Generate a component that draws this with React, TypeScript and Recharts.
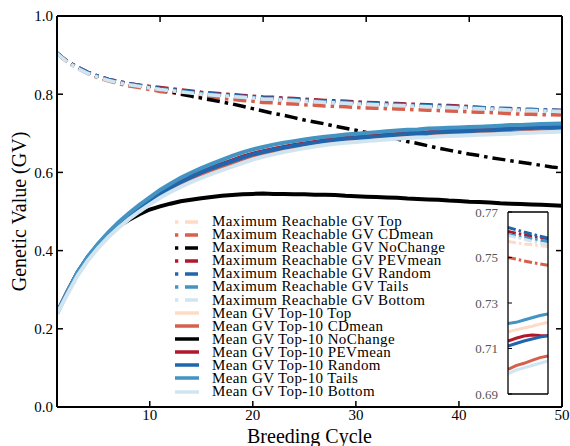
import React from 'react'
import { LineChart, Line, XAxis, YAxis, Legend } from 'recharts'

const FONT = '"Liberation Serif", "Times New Roman", serif'

const cycles = [
  1, 2, 3, 4, 5, 6, 7, 8, 9, 10, 11, 12, 13, 14, 15, 16, 17, 18, 19, 20, 21, 22, 23, 24, 25,
  26, 27, 28, 29, 30, 31, 32, 33, 34, 35, 36, 37, 38, 39, 40, 41, 42, 43, 44, 45, 46, 47, 48, 49, 50,
]

const schemes = ['Top', 'CDmean', 'NoChange', 'PEVmean', 'Random', 'Tails', 'Bottom']
const colors = ['#fddbc7', '#d6604d', '#000000', '#b2182b', '#2166ac', '#4393c3', '#d1e5f0']

// Maximum reachable GV per scheme
const maxTop = [
  0.904, 0.881, 0.865, 0.852, 0.841, 0.833, 0.827, 0.822, 0.818, 0.814,
  0.810, 0.807, 0.804, 0.801, 0.798, 0.796, 0.794, 0.792, 0.790, 0.788,
  0.786, 0.785, 0.783, 0.782, 0.780, 0.779, 0.777, 0.776, 0.775, 0.773,
  0.772, 0.771, 0.770, 0.769, 0.768, 0.767, 0.766, 0.765, 0.764, 0.763,
  0.762, 0.761, 0.760, 0.759, 0.7570, 0.7565, 0.7560, 0.7556, 0.7552, 0.7548,
]
const maxCDmean = [
  0.905, 0.883, 0.867, 0.853, 0.842, 0.834, 0.827, 0.821, 0.817, 0.812,
  0.807, 0.804, 0.801, 0.797, 0.794, 0.791, 0.789, 0.787, 0.784, 0.782,
  0.779, 0.778, 0.776, 0.775, 0.773, 0.772, 0.770, 0.769, 0.768, 0.766,
  0.765, 0.764, 0.763, 0.762, 0.761, 0.760, 0.759, 0.758, 0.757, 0.756,
  0.755, 0.754, 0.753, 0.752, 0.7500, 0.7493, 0.7485, 0.7478, 0.7472, 0.7466,
]
const maxNoChange = [
  0.905, 0.883, 0.868, 0.855, 0.845, 0.837, 0.831, 0.826, 0.822, 0.818,
  0.813, 0.807, 0.800, 0.795, 0.790, 0.785, 0.780, 0.775, 0.769, 0.763,
  0.757, 0.751, 0.746, 0.740, 0.734, 0.729, 0.724, 0.718, 0.713, 0.708,
  0.702, 0.696, 0.691, 0.685, 0.679, 0.674, 0.668, 0.662, 0.657, 0.652,
  0.647, 0.643, 0.638, 0.634, 0.630, 0.626, 0.622, 0.618, 0.614, 0.611,
]
const maxPEVmean = [
  0.905, 0.884, 0.869, 0.856, 0.846, 0.838, 0.832, 0.827, 0.823, 0.820,
  0.817, 0.814, 0.811, 0.808, 0.805, 0.803, 0.801, 0.799, 0.797, 0.795,
  0.793, 0.792, 0.790, 0.789, 0.787, 0.786, 0.784, 0.783, 0.782, 0.780,
  0.779, 0.778, 0.777, 0.776, 0.775, 0.774, 0.773, 0.772, 0.771, 0.770,
  0.768, 0.766, 0.764, 0.7625, 0.7614, 0.7607, 0.7600, 0.7593, 0.7588, 0.7582,
]
const maxRandom = [
  0.905, 0.884, 0.869, 0.856, 0.846, 0.838, 0.832, 0.827, 0.823, 0.819,
  0.815, 0.812, 0.809, 0.806, 0.803, 0.801, 0.799, 0.797, 0.795, 0.793,
  0.791, 0.790, 0.788, 0.787, 0.785, 0.784, 0.782, 0.781, 0.780, 0.778,
  0.777, 0.776, 0.775, 0.774, 0.773, 0.772, 0.771, 0.770, 0.769, 0.768,
  0.767, 0.766, 0.765, 0.764, 0.7632, 0.7622, 0.7612, 0.7603, 0.7594, 0.7585,
]
const maxTails = [
  0.905, 0.883, 0.867, 0.854, 0.844, 0.836, 0.830, 0.825, 0.821, 0.817,
  0.813, 0.810, 0.807, 0.804, 0.801, 0.799, 0.797, 0.795, 0.793, 0.791,
  0.789, 0.788, 0.786, 0.785, 0.783, 0.782, 0.780, 0.779, 0.778, 0.776,
  0.775, 0.774, 0.773, 0.772, 0.771, 0.770, 0.769, 0.768, 0.767, 0.766,
  0.765, 0.764, 0.763, 0.762, 0.7600, 0.7594, 0.7588, 0.7582, 0.7576, 0.7570,
]
const maxBottom = [
  0.904, 0.882, 0.866, 0.853, 0.843, 0.835, 0.829, 0.824, 0.820, 0.816,
  0.812, 0.809, 0.806, 0.803, 0.800, 0.798, 0.796, 0.794, 0.792, 0.790,
  0.788, 0.787, 0.785, 0.784, 0.782, 0.781, 0.779, 0.778, 0.777, 0.775,
  0.774, 0.773, 0.772, 0.771, 0.770, 0.769, 0.768, 0.767, 0.766, 0.765,
  0.764, 0.763, 0.762, 0.761, 0.7597, 0.7588, 0.7580, 0.7571, 0.7563, 0.7555,
]

// Mean GV of the top-10 per scheme
const meanTop = [
  0.240, 0.293, 0.343, 0.382, 0.414, 0.442, 0.466, 0.488, 0.508, 0.526,
  0.544, 0.559, 0.573, 0.586, 0.598, 0.608, 0.618, 0.628, 0.637, 0.645,
  0.651, 0.657, 0.663, 0.668, 0.673, 0.677, 0.680, 0.684, 0.687, 0.689,
  0.692, 0.694, 0.697, 0.699, 0.701, 0.703, 0.705, 0.707, 0.708, 0.710,
  0.711, 0.713, 0.714, 0.716, 0.7173, 0.7182, 0.7190, 0.7198, 0.7207, 0.7215,
]
const meanCDmean = [
  0.240, 0.292, 0.341, 0.380, 0.411, 0.439, 0.463, 0.485, 0.505, 0.524,
  0.541, 0.556, 0.569, 0.581, 0.592, 0.602, 0.612, 0.621, 0.630, 0.639,
  0.645, 0.651, 0.656, 0.661, 0.665, 0.669, 0.673, 0.676, 0.679, 0.682,
  0.684, 0.686, 0.688, 0.689, 0.691, 0.692, 0.694, 0.695, 0.696, 0.697,
  0.698, 0.698, 0.699, 0.700, 0.7008, 0.7025, 0.7035, 0.7048, 0.7060, 0.7067,
]
const meanNoChange = [
  0.240, 0.294, 0.344, 0.383, 0.415, 0.441, 0.463, 0.479, 0.493, 0.505,
  0.513, 0.520, 0.526, 0.530, 0.534, 0.537, 0.540, 0.542, 0.544, 0.545,
  0.546, 0.545, 0.545, 0.544, 0.544, 0.543, 0.543, 0.542, 0.540, 0.539,
  0.538, 0.537, 0.536, 0.535, 0.533, 0.532, 0.531, 0.530, 0.528, 0.527,
  0.525, 0.524, 0.523, 0.521, 0.520, 0.519, 0.518, 0.517, 0.516, 0.515,
]
const meanPEVmean = [
  0.240, 0.295, 0.344, 0.384, 0.416, 0.444, 0.469, 0.491, 0.512, 0.530,
  0.548, 0.563, 0.577, 0.590, 0.602, 0.612, 0.622, 0.631, 0.640, 0.648,
  0.654, 0.660, 0.665, 0.670, 0.674, 0.678, 0.682, 0.685, 0.688, 0.690,
  0.692, 0.694, 0.696, 0.698, 0.700, 0.702, 0.703, 0.705, 0.706, 0.707,
  0.708, 0.709, 0.710, 0.712, 0.7133, 0.7145, 0.7155, 0.7159, 0.7157, 0.7156,
]
const meanRandom = [
  0.240, 0.294, 0.344, 0.383, 0.415, 0.443, 0.468, 0.490, 0.510, 0.528,
  0.546, 0.561, 0.575, 0.588, 0.600, 0.610, 0.620, 0.629, 0.638, 0.646,
  0.652, 0.658, 0.663, 0.668, 0.672, 0.676, 0.680, 0.683, 0.686, 0.688,
  0.690, 0.692, 0.694, 0.696, 0.698, 0.700, 0.701, 0.703, 0.704, 0.705,
  0.706, 0.707, 0.708, 0.709, 0.7111, 0.7122, 0.7133, 0.7142, 0.7150, 0.7156,
]
const meanTails = [
  0.240, 0.295, 0.345, 0.385, 0.418, 0.447, 0.473, 0.496, 0.517, 0.536,
  0.555, 0.571, 0.586, 0.599, 0.611, 0.622, 0.632, 0.642, 0.651, 0.659,
  0.665, 0.671, 0.676, 0.680, 0.684, 0.688, 0.691, 0.694, 0.697, 0.699,
  0.701, 0.703, 0.705, 0.707, 0.709, 0.710, 0.712, 0.713, 0.714, 0.715,
  0.716, 0.717, 0.718, 0.7195, 0.7210, 0.7215, 0.7225, 0.7235, 0.7245, 0.7252,
]
const meanBottom = [
  0.238, 0.288, 0.336, 0.375, 0.407, 0.435, 0.459, 0.481, 0.500, 0.518,
  0.535, 0.550, 0.563, 0.575, 0.586, 0.596, 0.606, 0.615, 0.624, 0.633,
  0.640, 0.646, 0.652, 0.657, 0.662, 0.666, 0.670, 0.673, 0.676, 0.678,
  0.680, 0.682, 0.684, 0.686, 0.688, 0.689, 0.690, 0.692, 0.693, 0.694,
  0.695, 0.696, 0.697, 0.698, 0.6990, 0.7005, 0.7015, 0.7025, 0.7035, 0.7045,
]

const xTicks = [10, 20, 30, 40, 50]
const yTicks = [0, 0.2, 0.4, 0.6, 0.8, 1.0]
const insetTicks = [0.69, 0.71, 0.73, 0.75, 0.77]
const insetStart = 45

const maxValues = [maxTop, maxCDmean, maxNoChange, maxPEVmean, maxRandom, maxTails, maxBottom]
const meanValues = [meanTop, meanCDmean, meanNoChange, meanPEVmean, meanRandom, meanTails, meanBottom]

interface Series {
  key: string
  name: string
  color: string
  dashed: boolean
}

const series: Series[] = [
  ...schemes.map((s, i) => ({ key: `max${s}`, name: `Maximum Reachable GV ${s}`, color: colors[i], dashed: true })),
  ...schemes.map((s, i) => ({ key: `mean${s}`, name: `Mean GV Top-10 ${s}`, color: colors[i], dashed: false })),
]

const rows = cycles.map((c, i) => {
  const row: Record<string, number> = { cycle: c }
  schemes.forEach((s, j) => {
    row[`max${s}`] = maxValues[j][i]
    row[`mean${s}`] = meanValues[j][i]
  })
  return row
})
const insetRows = rows.filter(r => r.cycle >= insetStart)

const DASH = '13 5 3.5 5'
const axisStyle = { stroke: '#000', strokeWidth: 2 }
const tickStyle = { stroke: '#000', strokeWidth: 1.5 }
const noLabel = () => <g />

const YTitle = (props: any) => {
  const vb = props.viewBox
  const x = vb.x + 7
  const y = vb.y + vb.height / 2
  return (
    <text x={x} y={y} transform={`rotate(-90, ${x}, ${y})`} textAnchor="middle" dominantBaseline="central"
      fontSize={20} fill="#000" fontFamily={FONT}>
      Genetic Value (GV)
    </text>
  )
}

const XTitle = (props: any) => {
  const vb = props.viewBox
  return (
    <text x={vb.x + vb.width / 2} y={vb.y + 36} textAnchor="middle" fontSize={20} fill="#000" fontFamily={FONT}>
      Breeding Cycle
    </text>
  )
}

const LegendBox = () => (
  <div style={{ fontFamily: FONT, fontSize: 15, color: '#000', letterSpacing: 0.4 }}>
    {series.map(s => (
      <div key={s.key} style={{ display: 'flex', alignItems: 'center', height: 13.08 }}>
        <svg width={24} height={6} style={{ flex: 'none' }}>
          <line x1={0} y1={3} x2={24} y2={3} stroke={s.color} strokeWidth={3.5}
            strokeDasharray={s.dashed ? '3.3 6.7 13 6' : undefined} />
        </svg>
        <span style={{ marginLeft: 13, whiteSpace: 'nowrap', lineHeight: '13px' }}>{s.name}</span>
      </div>
    ))}
  </div>
)

export default function App() {
  return (
    <div style={{ position: 'absolute', left: 0, top: 0, width: 570, height: 446, background: '#fff', fontFamily: FONT }}>
      <LineChart width={570} height={446} data={rows} margin={{ top: 15, right: 7, bottom: 0, left: 12 }}>
        <XAxis dataKey="cycle" type="number" domain={[1, 50]} ticks={xTicks} allowDataOverflow
          height={39} axisLine={axisStyle} tickLine={tickStyle} tickSize={-6} tickMargin={8}
          tick={{ fill: '#000', fontSize: 15, fontFamily: FONT }} label={<XTitle />} />
        <XAxis xAxisId="top" orientation="top" type="number" domain={[1, 50]} ticks={[10, 20, 30, 40]}
          allowDataOverflow height={1} axisLine={axisStyle} tickLine={tickStyle} tickSize={-6} tick={noLabel} />
        <YAxis type="number" domain={[0, 1]} ticks={yTicks} allowDataOverflow width={45}
          axisLine={axisStyle} tickLine={tickStyle} tickSize={-6} tickMargin={10}
          tickFormatter={(v: number) => v.toFixed(1)}
          tick={{ fill: '#000', fontSize: 15, fontFamily: FONT }} label={<YTitle />} />
        <YAxis yAxisId="right" orientation="right" type="number" domain={[0, 1]} ticks={[0.2, 0.4, 0.6, 0.8]}
          allowDataOverflow width={1} axisLine={axisStyle} tickLine={tickStyle} tickSize={-6} tick={noLabel} />
        {series.map(s => (
          <Line key={s.key} dataKey={s.key} name={s.name} type="linear" stroke={s.color}
            strokeWidth={s.dashed ? 3.5 : 4} strokeDasharray={s.dashed ? DASH : undefined}
            dot={false} activeDot={false} isAnimationActive={false} />
        ))}
        <Legend content={LegendBox} layout="vertical" align="center" verticalAlign="middle"
          wrapperStyle={{ left: 175, top: 215, width: 300 }} />
      </LineChart>

      {/* zoomed inset on the last cycles */}
      <div style={{ position: 'absolute', left: 468, top: 204 }}>
        <LineChart width={82} height={198} data={insetRows} margin={{ top: 7, right: 1, bottom: 7, left: 0 }}>
          <XAxis dataKey="cycle" type="number" domain={[insetStart, 50]} allowDataOverflow height={1}
            axisLine={{ stroke: '#000', strokeWidth: 1.3 }} tickLine={false} tick={noLabel} />
          <XAxis xAxisId="top" orientation="top" type="number" domain={[insetStart, 50]} allowDataOverflow height={1}
            axisLine={{ stroke: '#000', strokeWidth: 1.3 }} tickLine={false} tick={noLabel} />
          <YAxis type="number" domain={[0.69, 0.77]} ticks={insetTicks} allowDataOverflow width={40}
            axisLine={{ stroke: '#000', strokeWidth: 1.3 }} tickLine={{ stroke: '#000', strokeWidth: 1 }}
            tickSize={-4} tickMargin={14} tickFormatter={(v: number) => v.toFixed(2)}
            tick={{ fill: '#555', fontSize: 13, fontFamily: FONT }} />
          <YAxis yAxisId="right" orientation="right" type="number" domain={[0.69, 0.77]} allowDataOverflow width={1}
            axisLine={{ stroke: '#000', strokeWidth: 1.3 }} tickLine={false} tick={noLabel} />
          {series.map(s => (
            <Line key={s.key} dataKey={s.key} type="linear" stroke={s.color}
              strokeWidth={3} strokeDasharray={s.dashed ? '8 3 2.5 3' : undefined}
              dot={false} activeDot={false} isAnimationActive={false} />
          ))}
        </LineChart>
      </div>
    </div>
  )
}
